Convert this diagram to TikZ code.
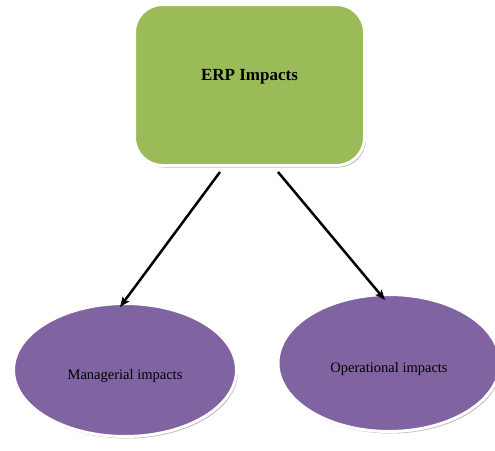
\documentclass[tikz,border=0pt]{standalone}
\usepackage{fontspec}
\setmainfont{Liberation Serif}
\usetikzlibrary{shapes.geometric,shadows,arrows.meta}

\definecolor{erpgreen}{HTML}{9BBB59}
\definecolor{impactpurple}{HTML}{8064A2}

% shift a label visually while keeping its box size for centring
\newcommand{\shiftlabel}[2]{\raisebox{#1}[\height][\depth]{#2}}

\tikzset{
  softshadow/.style={drop shadow={shadow xshift=1.5pt,shadow yshift=-2pt,opacity=0.4,fill=black!70}},
  topbox/.style={draw=white,line width=3pt,fill=erpgreen,rounded corners=28pt,
    minimum width=230pt,minimum height=161pt,inner sep=0pt,softshadow,
    font=\fontsize{17}{20}\selectfont\bfseries},
  impact/.style={ellipse,draw=white,line width=3pt,fill=impactpurple,inner sep=0pt,
    softshadow,font=\fontsize{14.5}{17}\selectfont},
  link/.style={line width=2.5pt,-{Stealth[length=10pt,width=8pt,inset=2pt]}}
}

\begin{document}
\begin{tikzpicture}[x=1pt,y=-1pt]
  \useasboundingbox (0,0) rectangle (495,450);

  % top box
  \node[topbox] (erp) at (249.5,85) {\shiftlabel{8pt}{ERP Impacts}};

  % the two impact ellipses
  \node[impact,minimum width=223pt,minimum height=133pt] (mgr) at (125,370)
    {\shiftlabel{-6.5pt}{Managerial impacts}};
  \node[impact,minimum width=222pt,minimum height=137pt] (opr) at (389,363)
    {\shiftlabel{-6pt}{Operational impacts}};

  % connectors
  \draw[link] ([shift={(-29.5,5)}]erp.south) -- ([shift={(-5,5)}]mgr.north);
  \draw[link] ([shift={(28.5,5)}]erp.south) -- ([shift={(-4,7)}]opr.north);
\end{tikzpicture}
\end{document}
